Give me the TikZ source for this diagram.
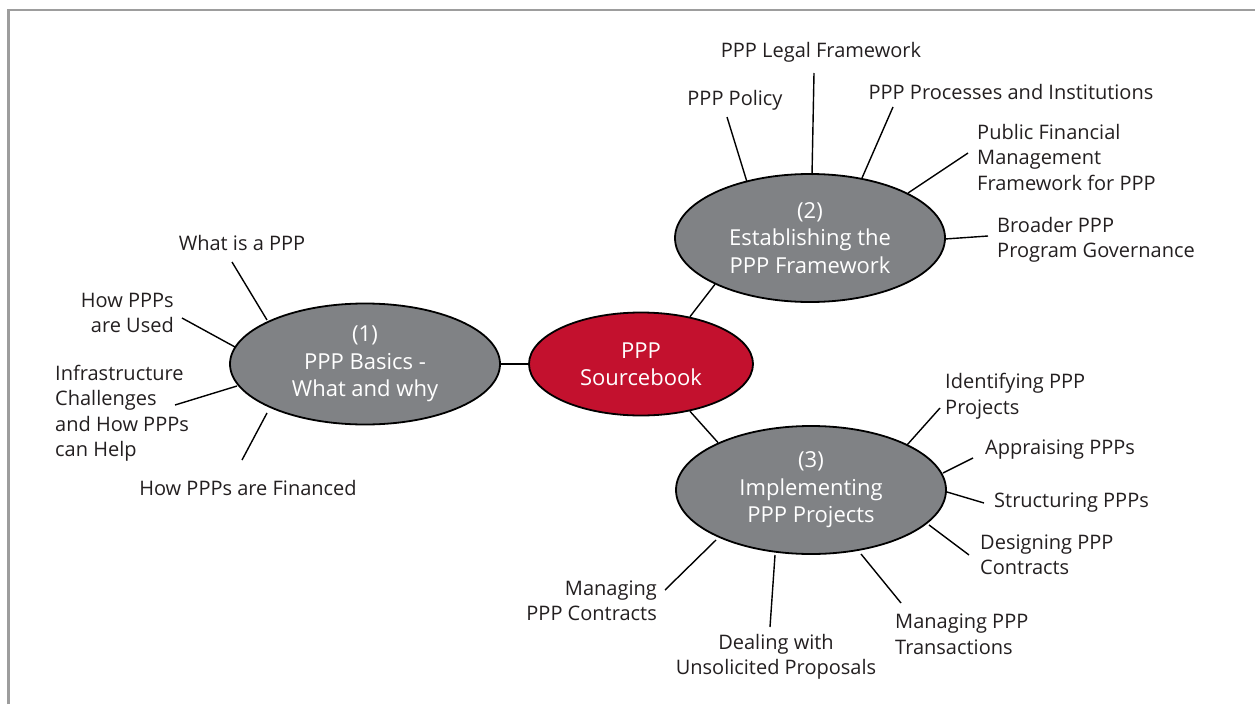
\documentclass[tikz,border=0pt]{standalone}
\usepackage{fontspec}
\setmainfont{Open Sans}
\usetikzlibrary{shapes.geometric}
\definecolor{framegray}{HTML}{9D9D9D}
\definecolor{ellgray}{HTML}{808285}
\definecolor{srcred}{HTML}{C3112E}
\definecolor{txtdark}{HTML}{231F20}
\begin{document}
\begin{tikzpicture}[x=1pt,y=-1pt,
  leaf/.style={text=txtdark, inner sep=0pt, font=\fontsize{20}{25.5}\selectfont},
  hub/.style={ellipse, draw=black, line width=1.8pt, fill=ellgray, text=white,
    minimum width=270pt, minimum height=128pt, inner sep=0pt, align=center,
    font=\fontsize{22}{27.5}\selectfont},
  link/.style={draw=black, line width=1.4pt}]
\useasboundingbox (0,0) rectangle (1255,704);
\draw[framegray, line width=2.5pt] (8.5,704) -- (8.5,10) -- (1255,10);

% hubs
\node[hub, fill=srcred, minimum width=224pt, minimum height=103pt] (src) at (641,364) {PPP\\Sourcebook};
\node[hub, minimum height=121pt] (e1) at (365,364) {(1)\\PPP Basics -\\What and why};
\node[hub] (e2) at (810,238) {(2)\\Establishing the\\PPP Framework};
\node[hub] (e3) at (811,490) {(3)\\Implementing\\PPP Projects};

\draw[link] (e1.east) -- (src.west);
\draw[link] (src.44) -- (e2.206);
\draw[link] (src.316) -- (e3.153);

% leaves of (1)
\node[leaf] (l1) at (242,243) {What is a PPP};
\node[leaf, anchor=east, align=right] (l2) at (174,313) {How PPPs\\are Used};
\node[leaf, anchor=west, align=left] (l3) at (55,413) {Infrastructure\\Challenges\\and How PPPs\\can Help};
\node[leaf] (l4) at (248,488) {How PPPs are Financed};
\coordinate (l1a) at (232,262); \coordinate (l1b) at (267,320);
\coordinate (l2a) at (182,318); \coordinate (l2b) at (235,347);
\coordinate (l3a) at (175,405); \coordinate (l3b) at (237,386);
\coordinate (l4a) at (242,460); \coordinate (l4b) at (267,413);
\draw[link] (l1a) -- (l1b);
\draw[link] (l2a) -- (l2b);
\draw[link] (l3a) -- (l3b);
\draw[link] (l4a) -- (l4b);

% leaves of (2)
\node[leaf] (m1) at (735,100) {PPP Policy};
\node[leaf] (m2) at (821,52) {PPP Legal Framework};
\node[leaf] (m3) at (1011,92) {PPP Processes and Institutions};
\node[leaf, anchor=west, align=left] (m4) at (977,157) {Public Financial\\Management\\Framework for PPP};
\node[leaf, anchor=west, align=left] (m5) at (997,240) {Broader PPP\\Program Governance};
\coordinate (m1a) at (727,117); \coordinate (m1b) at (747,182);
\coordinate (m2a) at (814,73);  \coordinate (m2b) at (812,175);
\coordinate (m3a) at (893,107); \coordinate (m3b) at (862,178);
\coordinate (m4a) at (968,153); \coordinate (m4b) at (908,193);
\coordinate (m5a) at (988,236); \coordinate (m5b) at (945,239);
\draw[link] (m1a) -- (m1b);
\draw[link] (m2a) -- (m2b);
\draw[link] (m3a) -- (m3b);
\draw[link] (m4a) -- (m4b);
\draw[link] (m5a) -- (m5b);

% leaves of (3)
\node[leaf, anchor=west, align=left] (n1) at (945,396) {Identifying PPP\\Projects};
\node[leaf, anchor=west] (n2) at (985,450) {Appraising PPPs};
\node[leaf, anchor=west] (n3) at (994,503) {Structuring PPPs};
\node[leaf, anchor=west, align=left] (n4) at (980,555) {Designing PPP\\Contracts};
\node[leaf, anchor=west, align=left] (n5) at (895,634) {Managing PPP\\Transactions};
\node[leaf, align=center] (n6) at (776,657) {Dealing with\\Unsolicited Proposals};
\node[leaf, anchor=east, align=right] (n7) at (657,601) {Managing\\PPP Contracts};
\coordinate (n1a) at (940,408); \coordinate (n1b) at (907,445);
\coordinate (n2a) at (973,458); \coordinate (n2b) at (943,473);
\coordinate (n3a) at (984,503); \coordinate (n3b) at (947,492);
\coordinate (n4a) at (969,555); \coordinate (n4b) at (929,525);
\coordinate (n5a) at (901,603); \coordinate (n5b) at (861,554);
\coordinate (n6a) at (770,627); \coordinate (n6b) at (775,555);
\coordinate (n7a) at (665,590); \coordinate (n7b) at (716,540);
\draw[link] (n1a) -- (n1b);
\draw[link] (n2a) -- (n2b);
\draw[link] (n3a) -- (n3b);
\draw[link] (n4a) -- (n4b);
\draw[link] (n5a) -- (n5b);
\draw[link] (n6a) -- (n6b);
\draw[link] (n7a) -- (n7b);
\end{tikzpicture}
\end{document}
